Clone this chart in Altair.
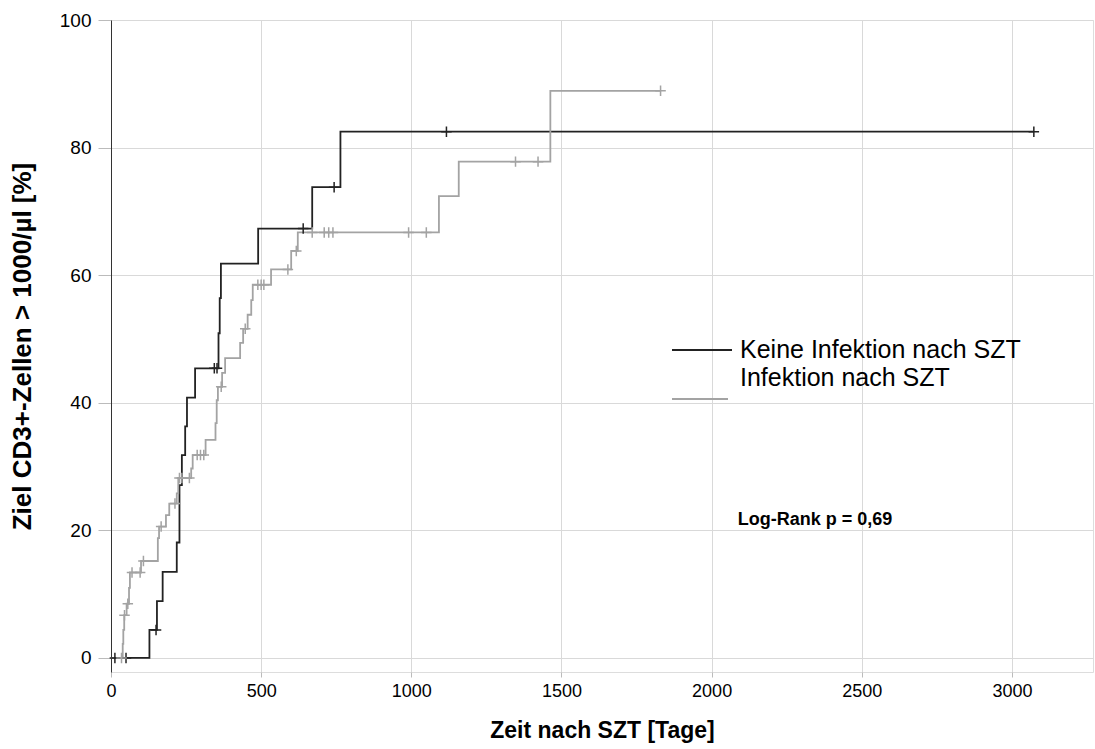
import altair as alt
import pandas as pd

# ---- data ----
labels = ["Keine Infektion nach SZT", "Infektion nach SZT"]
colors = ["#222222", "#a3a3a3"]

black_event_days = [128, 153, 172, 219, 228, 236, 247, 253, 280, 358, 362, 366, 490, 670, 764]
black_event_pct = [4.4, 8.9, 13.5, 18.1, 27.1, 31.8, 36.3, 40.8, 45.4, 50.9, 56.4, 61.8, 67.3, 73.8, 82.5]
black_censor_days = [13, 50, 150, 344, 353, 640, 743, 1117, 3073]
black_end_day = 3073

grey_event_days = [39, 41, 44, 52, 60, 63, 100, 156, 160, 183, 194, 219, 224, 267, 272, 315,
                   348, 352, 356, 370, 380, 430, 440, 455, 467, 472, 533, 600, 622, 1092, 1158, 1463]
grey_event_pct = [2.2, 4.4, 6.7, 8.5, 11.0, 13.4, 15.2, 18.8, 20.6, 22.4, 24.2, 25.8, 28.2, 29.7, 31.8, 34.2,
                  36.8, 40.4, 42.5, 44.7, 47.0, 49.4, 51.6, 53.8, 56.1, 58.5, 60.9, 63.8, 66.7, 72.4, 77.8, 88.9]
grey_censor_days = [35, 45, 56, 70, 97, 108, 167, 213, 228, 236, 261, 287, 298, 309, 367, 447,
                    489, 500, 509, 589, 617, 670, 710, 725, 739, 991, 1050, 1347, 1422, 1830]
grey_end_day = 1830

x_ticks = [0, 500, 1000, 1500, 2000, 2500, 3000]
y_ticks = [0, 20, 40, 60, 80, 100]


def step_rows(days, pct, end_day, label):
    rows = [{"day": 0, "pct": 0.0, "group": label, "order": 0}]
    for i, (d, p) in enumerate(zip(days, pct)):
        rows.append({"day": d, "pct": p, "group": label, "order": i + 1})
    rows.append({"day": end_day, "pct": pct[-1], "group": label, "order": len(days) + 1})
    return rows


def censor_rows(cdays, days, pct, label):
    rows = []
    for c in cdays:
        v = 0.0
        for d, p in zip(days, pct):
            if d <= c:
                v = p
        rows.append({"day": c, "pct": v, "group": label})
    return rows


lines = pd.DataFrame(step_rows(black_event_days, black_event_pct, black_end_day, labels[0]) +
                     step_rows(grey_event_days, grey_event_pct, grey_end_day, labels[1]))
censors = pd.DataFrame(censor_rows(black_censor_days, black_event_days, black_event_pct, labels[0]) +
                       censor_rows(grey_censor_days, grey_event_days, grey_event_pct, labels[1]))
note = pd.DataFrame({"day": [2087], "pct": [21.6], "text": ["Log-Rank p = 0,69"]})

FONT = "Liberation Sans"

xs = alt.Scale(domain=[0, 3270], nice=False, zero=False)
ys = alt.Scale(domain=[-2.2, 100], nice=False, zero=False)
cscale = alt.Scale(domain=labels, range=colors)

x_enc = alt.X("day:Q", scale=xs,
              axis=alt.Axis(values=x_ticks, format="d", title="Zeit nach SZT [Tage]", domain=False,
                            tickColor="#bbbbbb", tickSize=5, grid=True, gridColor="#d9d9d9",
                            labelFlush=False, labelOverlap=False,
                            labelFontSize=18, labelFont=FONT, labelColor="#000000", labelPadding=5,
                            titleFontSize=23, titleFont=FONT, titleFontWeight="bold",
                            titleColor="#000000", titlePadding=19))
y_enc = alt.Y("pct:Q", scale=ys,
              axis=alt.Axis(values=y_ticks, format="d", title="Ziel CD3+-Zellen > 1000/µl [%]", domain=True,
                            domainColor="#333333", tickColor="#bbbbbb", tickSize=13, grid=True,
                            gridColor="#d9d9d9", labelFontSize=19, labelFont=FONT,
                            labelFlush=False, labelOverlap=False,
                            labelColor="#000000", labelPadding=7,
                            titleFontSize=26, titleFont=FONT, titleFontWeight="bold",
                            titleColor="#000000", titleX=-89, titleY=326, titleAngle=270,
                            titleAlign="center", titleBaseline="middle"))

line_layer = alt.Chart(lines).mark_line(interpolate="step-after", strokeWidth=1.8).encode(
    x=x_enc, y=y_enc, color=alt.Color("group:N", scale=cscale, legend=None), order="order:Q")

censor_layer = alt.Chart(censors).mark_point(
    shape="M-1,0H1M0,-1V1", filled=False, size=110, strokeWidth=1.5, opacity=1).encode(
    x=alt.X("day:Q", scale=xs), y=alt.Y("pct:Q", scale=ys),
    color=alt.Color("group:N", scale=cscale, legend=None))

text_layer = alt.Chart(note).mark_text(
    align="left", baseline="middle", font=FONT, fontSize=18, fontWeight="bold", color="#000000").encode(
    x=alt.X("day:Q", scale=xs), y=alt.Y("pct:Q", scale=ys), text="text:N")

# manual legend (line sample + label) placed in the plot area like the reference
leg_black_line = alt.Chart(pd.DataFrame({"group": [labels[0]]})).mark_rule(
    color=colors[0], strokeWidth=2).encode(x=alt.value(561), x2=alt.value(621), y=alt.value(330))
leg_grey_line = alt.Chart(pd.DataFrame({"group": [labels[1]]})).mark_rule(
    color=colors[1], strokeWidth=2).encode(x=alt.value(561), x2=alt.value(617), y=alt.value(379))
leg_black_text = alt.Chart(pd.DataFrame({"group": [labels[0]]})).mark_text(
    align="left", baseline="middle", font=FONT, fontSize=25, color="#000000").encode(
    x=alt.value(629), y=alt.value(330), text="group:N")
leg_grey_text = alt.Chart(pd.DataFrame({"group": [labels[1]]})).mark_text(
    align="left", baseline="middle", font=FONT, fontSize=25, color="#000000").encode(
    x=alt.value(629), y=alt.value(358), text="group:N")

chart = alt.layer(line_layer, censor_layer, text_layer,
                  leg_black_line, leg_grey_line, leg_black_text, leg_grey_text).properties(
    width=982, height=652,
    autosize=alt.AutoSizeParams(type="none"),
    padding={"left": 111, "top": 20, "right": 2, "bottom": 77},
).configure_view(strokeWidth=0).configure(background="#ffffff")

chart.save("out.html", embed_options={"renderer": "svg", "actions": False})
